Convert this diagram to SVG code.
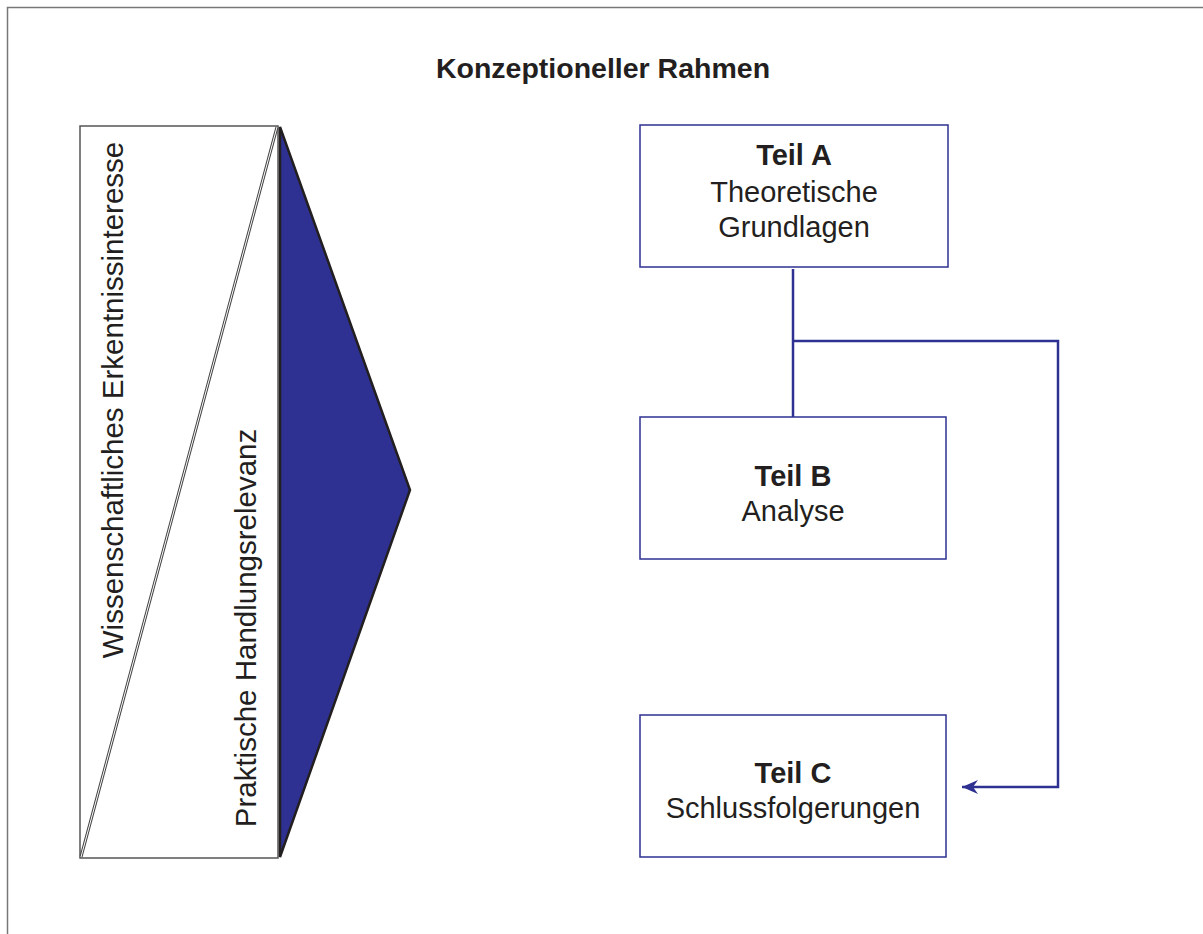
<svg xmlns="http://www.w3.org/2000/svg" width="1203" height="934" viewBox="0 0 1203 934">
<style>
text{font-family:"Liberation Sans",Arial,sans-serif;fill:#231f20}
.t{font-size:29px;text-anchor:middle}
.b{font-weight:bold}
.r{font-size:29.5px;text-anchor:middle}
.box{fill:#fff;stroke:#2e3192;stroke-width:1.5}
.con{fill:none;stroke:#2e3192;stroke-width:2.5}
</style>
<defs>
<marker id="ah" markerWidth="18" markerHeight="16" refX="16" refY="8" orient="auto" markerUnits="userSpaceOnUse">
<path d="M16,8 L0,1 L5,8 L0,15 Z" fill="#2e3192"/>
</marker>
</defs>
<rect x="7.5" y="7.5" width="1200" height="930" fill="#fff" stroke="#777" stroke-width="1.5"/>
<text x="603" y="78" font-size="28.5" class="b" text-anchor="middle">Konzeptioneller Rahmen</text>
<g id="left-panel">
<rect x="80" y="126" width="198" height="732" fill="#fff" stroke="#555" stroke-width="1.5"/>
<line x1="277" y1="127" x2="81" y2="857" stroke="#444" stroke-width="3"/>
<line x1="277" y1="127" x2="81" y2="857" stroke="#fff" stroke-width="1"/>
<text class="r" transform="translate(123,400) rotate(-90)">Wissenschaftliches Erkentnissinteresse</text>
<text class="r" font-size="30.5" transform="translate(256,628) rotate(-90)">Praktische Handlungsrelevanz</text>
</g>
<g id="triangle">
<polygon points="280,127 410,490 280,857" fill="#2e3192" stroke="#231f20" stroke-width="2.5" stroke-linejoin="miter"/>
</g>
<g id="teil-a">
<rect class="box" x="640" y="125" width="308" height="142"/>
<text class="t b" x="794" y="165">Teil A</text>
<text class="t" x="794" y="202">Theoretische</text>
<text class="t" x="794" y="237">Grundlagen</text>
</g>
<g id="teil-b">
<rect class="box" x="640" y="417" width="306" height="142"/>
<text class="t b" x="793" y="486">Teil B</text>
<text class="t" x="793" y="521">Analyse</text>
</g>
<g id="teil-c">
<rect class="box" x="640" y="715" width="306" height="142"/>
<text class="t b" x="793" y="783">Teil C</text>
<text class="t" x="793" y="818">Schlussfolgerungen</text>
</g>
<g id="connectors">
<line class="con" x1="793" y1="269" x2="793" y2="417"/>
<polyline class="con" points="793,341 1058,341 1058,787 962,787" marker-end="url(#ah)"/>
</g>
</svg>
